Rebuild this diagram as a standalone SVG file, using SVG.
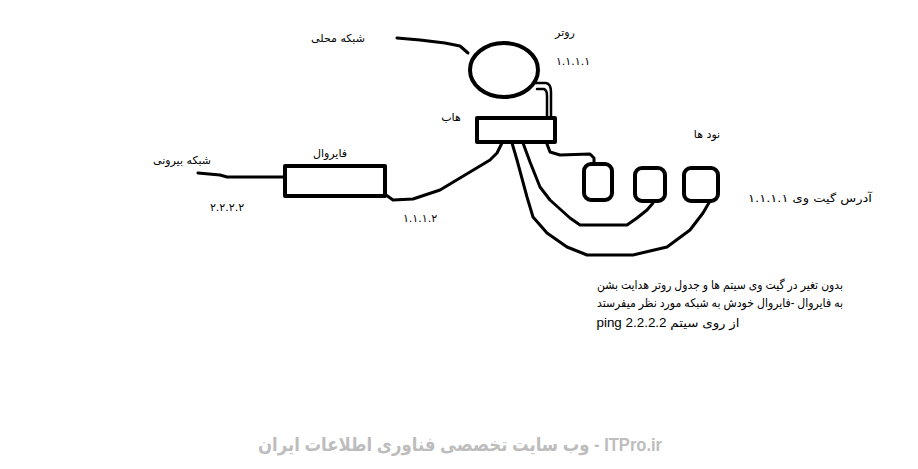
<svg xmlns="http://www.w3.org/2000/svg" width="918" height="469" viewBox="0 0 918 469">
<style>
.bg{fill:#ffffff}
.shape{fill:none;stroke:#000;stroke-width:4;stroke-linejoin:round}
.wire{fill:none;stroke:#000;stroke-width:3;stroke-linejoin:round;stroke-linecap:round}
.thin{fill:none;stroke:#000;stroke-width:2.5;stroke-linejoin:round;stroke-linecap:round}
.lbl{font-family:"DejaVu Sans","Liberation Sans",sans-serif;font-size:11px;fill:#000;text-anchor:middle}
.note{font-family:"Liberation Sans","DejaVu Sans",sans-serif;font-size:12px;fill:#000}
.wm{font-family:"Liberation Sans","DejaVu Sans",sans-serif;font-size:19px;font-weight:bold;fill:#bdbdbd;text-anchor:middle}
</style>
<rect class="bg" x="0" y="0" width="918" height="469"/>

<g id="connectors">
  <polyline class="wire" points="397,38 420,40 445,43 460,46 468,53"/>
  <path class="thin" d="M535,83 L546,83 Q551,84 551,92 L551,117"/>
  <path class="thin" d="M537,89 L544,89 Q547,90 547,96 L547,117"/>
  <polyline class="wire" points="198,173 220,175 227,177 284,177"/>
  <polyline class="wire" points="386,195 393,200 413,199 440,190 470,172 490,160 497,153 502,143"/>
  <polyline class="wire" points="547,144 550,152 560,155 590,154 594,158 594,163"/>
  <polyline class="wire" points="523,143 530,162 540,187 550,200 570,218 580,225 627,225 637,218 647,210 653,203"/>
  <polyline class="wire" points="512,143 517,160 527,197 533,217 547,233 567,247 587,255 633,255 667,247 690,230 703,213 710,201"/>
</g>

<g id="router">
  <ellipse class="shape" cx="504" cy="70" rx="34" ry="27"/>
  <text class="lbl" x="565" y="36">روتر</text>
  <text class="lbl" x="573" y="65">۱.۱.۱.۱</text>
</g>

<g id="local-network">
  <text class="lbl" x="338" y="42">شبکه محلی</text>
</g>

<g id="hub">
  <rect class="shape" x="477" y="118" width="78" height="24"/>
  <text class="lbl" x="451" y="121">هاب</text>
</g>

<g id="firewall">
  <rect class="shape" x="285" y="166" width="100" height="30"/>
  <text class="lbl" x="330" y="157">فایروال</text>
  <text class="lbl" x="420" y="222">۱.۱.۱.۲</text>
</g>

<g id="external-network">
  <text class="lbl" x="182" y="164">شبکه بیرونی</text>
  <text class="lbl" x="227" y="211">۲.۲.۲.۲</text>
</g>

<g id="node1">
  <rect class="shape" x="584" y="164" width="28" height="36" rx="7"/>
</g>
<g id="node2">
  <rect class="shape" x="635" y="168" width="30" height="33" rx="7"/>
</g>
<g id="node3">
  <rect class="shape" x="684" y="168" width="34" height="33" rx="7"/>
</g>

<g id="nodes-label">
  <text class="lbl" x="707" y="138">نود ها</text>
  <text class="lbl" x="810" y="202" textLength="124" lengthAdjust="spacingAndGlyphs">آدرس گیت وی ۱.۱.۱.۱</text>
</g>

<g id="note">
  <text class="note" x="720" y="289" text-anchor="middle" direction="rtl" textLength="246" lengthAdjust="spacingAndGlyphs">بدون تغیر در گیت وی سیتم ها و جدول روتر هدایت بشن</text>
  <text class="note" x="720" y="307" text-anchor="middle" direction="rtl" textLength="246" lengthAdjust="spacingAndGlyphs">به فایروال -فایروال خودش به شبکه مورد نظر میفرستد</text>
  <text class="note" x="668" y="327" text-anchor="middle" direction="rtl" font-size="13" textLength="143" lengthAdjust="spacingAndGlyphs">از روی سیتم  ping 2.2.2.2</text>
</g>

<g id="watermark">
  <text class="wm" x="460" y="451" direction="rtl" textLength="404" lengthAdjust="spacingAndGlyphs">ITPro.ir - وب سایت تخصصی فناوری اطلاعات ایران</text>
</g>
</svg>
